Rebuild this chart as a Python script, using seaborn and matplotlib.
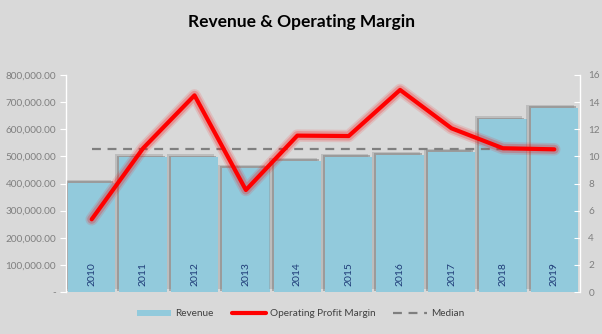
import matplotlib
matplotlib.use("Agg")
import matplotlib.pyplot as plt
import matplotlib.patheffects as pe
from matplotlib.ticker import FuncFormatter, MultipleLocator
from matplotlib.lines import Line2D
from matplotlib.patches import Patch
import seaborn as sns
import pandas as pd

years = ["2010", "2011", "2012", "2013", "2014", "2015", "2016", "2017", "2018", "2019"]
revenue = [403000, 498000, 498000, 458000, 484000, 499000, 506000, 517000, 638000, 679000]
margin = [5.36, 10.6, 14.5, 7.52, 11.53, 11.5, 14.9, 12.07, 10.6, 10.52]
median = [10.57] * 10

df = pd.DataFrame({"Year": years, "Revenue": revenue, "Margin": margin, "Median": median})

sns.set_theme(style="white")
plt.rcParams["font.family"] = ["Lato", "DejaVu Sans"]

bg = "#d9d9d9"
fig = plt.figure(figsize=(6.02, 3.34), dpi=100, facecolor=bg)
ax = fig.add_axes([66/602, 1-292/334, (580-66)/602, (292-75)/334])
ax.set_facecolor(bg)

bar_color = "#92cadc"
sns.barplot(data=df, x="Year", y="Revenue", ax=ax, color=bar_color, width=0.92,
            saturation=1, edgecolor="none", zorder=2)
for p in ax.patches:
    p.set_path_effects([
        pe.SimplePatchShadow(offset=(-3, 2), shadow_rgbFace="#8a8a8a", alpha=0.35),
        pe.SimplePatchShadow(offset=(-1.5, 1), shadow_rgbFace="#7a7a7a", alpha=0.5),
        pe.Normal()])

ax.set_ylim(0, 800000)
ax.set_xlim(-0.5, 9.5)
ax.yaxis.set_major_locator(MultipleLocator(100000))
ax.yaxis.set_major_formatter(FuncFormatter(lambda v, p: "-" if v == 0 else f"{v:,.2f}"))
ax.set_xlabel("")
ax.set_ylabel("")
ax.set_xticks([])
ax.tick_params(axis="y", colors="#7f7f7f", labelsize=7.2, length=4, width=0.8, direction="out", pad=3)
ax.tick_params(axis="y", color="white")
for s in ["top", "bottom", "right"]:
    ax.spines[s].set_visible(False)
ax.spines["left"].set_color("white")
ax.spines["left"].set_linewidth(1)

for i, y in enumerate(years):
    ax.text(i, 22000, y, rotation=90, ha="center", va="bottom", fontsize=7.5,
            color="#1f3c78", zorder=5)

ax2 = ax.twinx()
ax2.set_ylim(0, 16)
sns.lineplot(data=df, x="Year", y="Median", ax=ax2, color="#7f7f7f", linewidth=1.6,
             dashes=False, linestyle=(0, (4, 3)), sort=False, zorder=3)
sns.lineplot(data=df, x="Year", y="Margin", ax=ax2, color="#ff0000", linewidth=3,
             sort=False, zorder=4)
ax2.lines[-1].set_path_effects([
    pe.Stroke(linewidth=9, foreground=(1, 0, 0, 0.12)),
    pe.Stroke(linewidth=6.5, foreground=(1, 0, 0, 0.22)),
    pe.Normal()])
ax2.set_xlim(-0.5, 9.5)
ax2.yaxis.set_major_locator(MultipleLocator(2))
ax2.set_ylabel("")
ax2.set_xlabel("")
ax2.tick_params(axis="y", colors="#7f7f7f", labelsize=7.2, length=4, width=0.8, direction="in", pad=6)
ax2.tick_params(axis="y", color="white")
for s in ["top", "bottom", "left"]:
    ax2.spines[s].set_visible(False)
ax2.spines["right"].set_color("white")
ax2.spines["right"].set_linewidth(1)

fig.text(0.5, 1-22/334, "Revenue & Operating Margin", ha="center", va="center",
         fontsize=12.5, fontweight="bold", color="black")

handles = [Patch(facecolor=bar_color, edgecolor="none", label="Revenue"),
           Line2D([0], [0], color="#ff0000", linewidth=3, label="Operating Profit Margin"),
           Line2D([0], [0], color="#7f7f7f", linewidth=1.6, linestyle=(0, (4, 3)), label="Median")]
fig.legend(handles=handles, loc="center", bbox_to_anchor=(0.5, 1-314/334), ncol=3,
           frameon=False, fontsize=7.2, handlelength=3.4, handleheight=0.6,
           columnspacing=1.8, handletextpad=0.4, labelcolor="#404040")

fig.savefig("out.png", dpi=100, facecolor=bg)
